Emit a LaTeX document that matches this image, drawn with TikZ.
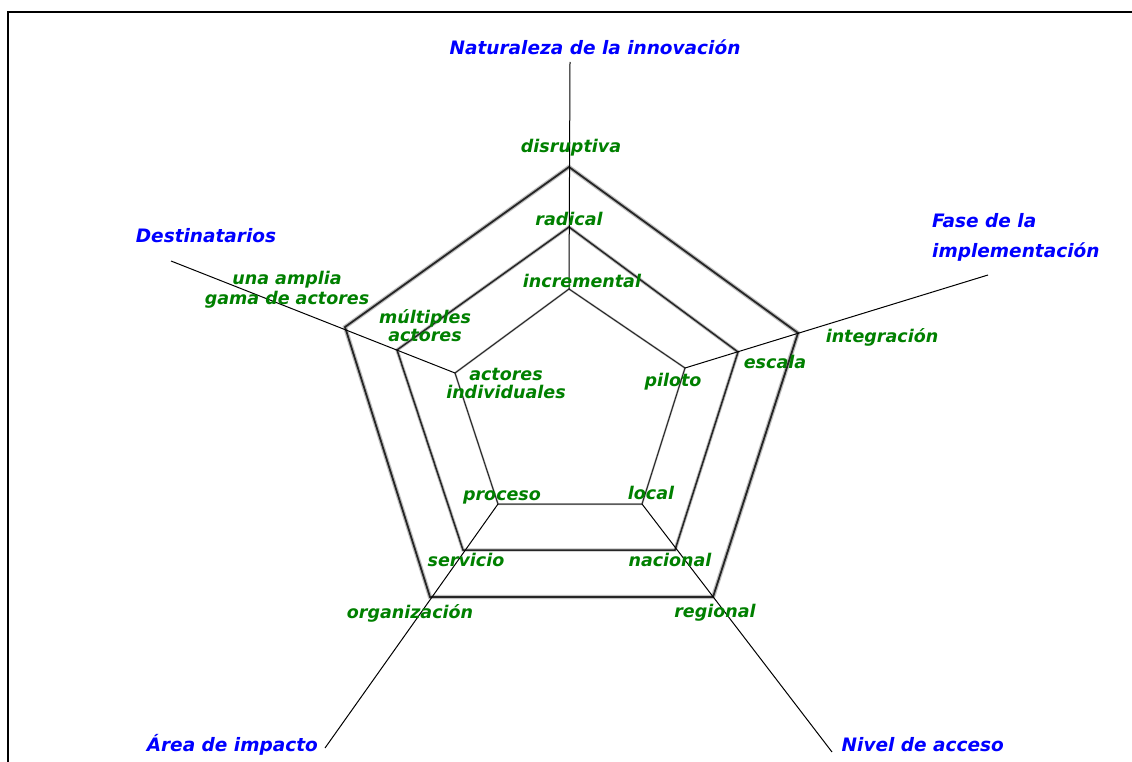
\documentclass[tikz,border=0pt]{standalone}
\usepackage{fontspec}
\setmainfont{DejaVu Sans}
\begin{document}
\begin{tikzpicture}[x=1pt,y=-1pt,
  axislabel/.style={text=blue,font=\fontsize{18.5}{22}\selectfont\bfseries\itshape,inner sep=0pt},
  level/.style={text=green!50!black,font=\fontsize{17.5}{18}\selectfont\bfseries\itshape,inner sep=0pt,align=center},
  spoke/.style={black,line width=1pt},
  ringhalo/.style={gray!50,line width=#1,line join=miter},
  ringcore/.style={black!85,line width=#1,line join=miter}]
\useasboundingbox (0,0) rectangle (1132,762);
\fill[white] (0,0) rectangle (1132,762);
% frame
\draw[line width=2.4pt] (8,762) -- (8,12) -- (1132,12);

% pentagon vertices: inner, middle, outer
\coordinate (i1) at (569,289); \coordinate (i2) at (685,368); \coordinate (i3) at (642,504);
\coordinate (i4) at (498,504); \coordinate (i5) at (455,373);
\coordinate (m1) at (569,227); \coordinate (m2) at (738,352); \coordinate (m3) at (675,550);
\coordinate (m4) at (463,550); \coordinate (m5) at (397,350);
\coordinate (o1) at (569,167); \coordinate (o2) at (798,333); \coordinate (o3) at (713,597);
\coordinate (o4) at (430,597); \coordinate (o5) at (345,327);
% axis ends
\coordinate (e1) at (570,62); \coordinate (e2) at (988,275); \coordinate (e3) at (832,752);
\coordinate (e4) at (325,748); \coordinate (e5) at (171,261);

% rings
\draw[ringhalo=4.2pt] (o1) -- (o2) -- (o3) -- (o4) -- (o5) -- cycle;
\draw[ringcore=1.8pt] (o1) -- (o2) -- (o3) -- (o4) -- (o5) -- cycle;
\draw[ringhalo=3.4pt] (m1) -- (m2) -- (m3) -- (m4) -- (m5) -- cycle;
\draw[ringcore=1.5pt] (m1) -- (m2) -- (m3) -- (m4) -- (m5) -- cycle;
\draw[ringhalo=2pt] (i1) -- (i2) -- (i3) -- (i4) -- (i5) -- cycle;
\draw[ringcore=1pt] (i1) -- (i2) -- (i3) -- (i4) -- (i5) -- cycle;

% spokes
\foreach \k in {1,...,5} \draw[spoke] (i\k) -- (e\k);

% axis titles
\node[axislabel] (tnat) at (595,47) {Naturaleza de la innovación};
\node[axislabel,align=left,anchor=west] (tfase) at (932,237) {Fase de la\\[8pt]implementación};
\node[axislabel,anchor=east] (tniv) at (1004,745) {Nivel de acceso};
\node[axislabel,anchor=east] (tarea) at (318,745) {Área de impacto};
\node[axislabel] (tdest) at (206,236) {Destinatarios};

% level labels
\node[level] (disr) at (571,148) {disruptiva};
\node[level] (radi) at (569,219) {radical};
\node[level] (incr) at (582,281) {incremental};
\node[level] (inte) at (882,337) {integración};
\node[level] (esca) at (775,362) {escala};
\node[level] (pilo) at (673,382) {piloto};
\node[level] (loca) at (651,493) {local};
\node[level] (naci) at (670,560) {nacional};
\node[level] (regi) at (715,613) {regional};
\node[level] (proc) at (502,497) {proceso};
\node[level] (serv) at (466,560) {servicio};
\node[level] (orga) at (410,613) {organización};
\node[level] (indi) at (506,383) {actores\\individuales};
\node[level] (mult) at (425,326) {múltiples\\actores};
\node[level] (ampl) at (287,290) {una amplia\\[2pt]gama de actores};
\end{tikzpicture}
\end{document}
